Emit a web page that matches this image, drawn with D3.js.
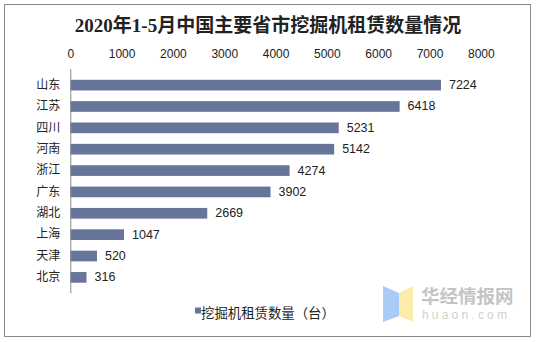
<!DOCTYPE html>
<html><head><meta charset="utf-8">
<script src="https://cdn.jsdelivr.net/npm/d3@7"></script>
<style>html,body{margin:0;padding:0;background:#fff;}svg{display:block;}</style>
</head><body>
<script>
const categories = ["山东","江苏","四川","河南","浙江","广东","湖北","上海","天津","北京"];
const values = [7224,6418,5231,5142,4274,3902,2669,1047,520,316];
const tickValues = [0,1000,2000,3000,4000,5000,6000,7000,8000];
const title = "2020年1-5月中国主要省市挖掘机租赁数量情况";
const seriesName = "挖掘机租赁数量（台）";

const W = 537, H = 342;
const svg = d3.select("body").append("svg").attr("width", W).attr("height", H);
svg.append("rect").attr("width", W).attr("height", H).attr("fill", "#fff");
svg.append("rect").attr("x", 4.5).attr("y", 4.5).attr("width", 526).attr("height", 332)
  .attr("fill", "none").attr("stroke", "#8a8a8a").attr("stroke-width", 1);

const x = d3.scaleLinear().domain([0, 8000]).range([70.3, 480.8]);
const y = d3.scaleBand().domain(categories).range([69.1, 293.4]).padding(0.5);

svg.append("text").attr("x", 268).attr("y", 25).attr("text-anchor", "middle")
  .attr("dominant-baseline", "central")
  .style("font-family", "'Liberation Serif','Noto Sans CJK SC',serif")
  .style("font-weight", "bold").style("font-size", "19px").attr("fill", "#222")
  .text(title);

// top axis
const ax = svg.append("g").attr("transform", "translate(0,54)")
  .call(d3.axisTop(x).tickValues(tickValues).tickSize(0).tickPadding(0).tickFormat(d3.format("d")));
ax.select(".domain").remove();
ax.selectAll("text").attr("dominant-baseline", "central").attr("dy", null).attr("y", 0)
  .style("font-family", "'Liberation Sans',Arial,sans-serif").style("font-size", "12px").attr("fill", "#222");

// bars
svg.append("g").selectAll("rect").data(values).join("rect")
  .attr("x", x(0)).attr("y", (d, i) => y(categories[i]))
  .attr("width", d => x(d) - x(0)).attr("height", y.bandwidth())
  .attr("fill", "#68759b");

// left axis
const ay = svg.append("g").attr("transform", `translate(${x(0)},0)`)
  .call(d3.axisLeft(y).tickSize(0).tickPadding(10));
ay.select(".domain").attr("stroke", "#8a8a8a").attr("d", `M0.5,69.1V293.4`);
ay.selectAll("text").style("font-family", "'Noto Sans CJK SC',sans-serif").style("font-size", "12px").attr("fill", "#222");

// value labels
svg.append("g").selectAll("text").data(values).join("text")
  .attr("x", d => x(d) + 8).attr("y", (d, i) => y(categories[i]) + y.bandwidth() / 2)
  .attr("dominant-baseline", "central")
  .style("font-family", "'Liberation Sans',Arial,sans-serif").style("font-size", "12.5px").attr("fill", "#222")
  .text(d => d);

// legend
svg.append("rect").attr("x", 195).attr("y", 307.5).attr("width", 6).attr("height", 6).attr("fill", "#68759b");
svg.append("text").attr("x", 201).attr("y", 312).attr("dominant-baseline", "central")
  .style("font-family", "'Noto Sans CJK SC',sans-serif").style("font-size", "13.4px").attr("fill", "#222")
  .text(seriesName);

// watermark
const wm = svg.append("g");
wm.append("polygon").attr("points", "383,286 399,293 399,316 383,322").attr("fill", "#aacbf7");
wm.append("polygon").attr("points", "399,293 413,286 413,322 399,316").attr("fill", "#fcebaa");
wm.append("text").attr("x", 421).attr("y", 295).attr("dominant-baseline", "central")
  .style("font-family", "'Noto Sans CJK SC',sans-serif").style("font-weight", "bold").style("font-size", "18.5px")
  .attr("fill", "#c4c4c4").text("华经情报网");
wm.append("text").attr("x", 422).attr("y", 314.5).attr("dominant-baseline", "central")
  .style("font-family", "'Liberation Sans',Arial,sans-serif").style("font-size", "12px").style("letter-spacing", "3.2px")
  .attr("fill", "#d0d0d0").text("huaon.com");
</script>
</body></html>
